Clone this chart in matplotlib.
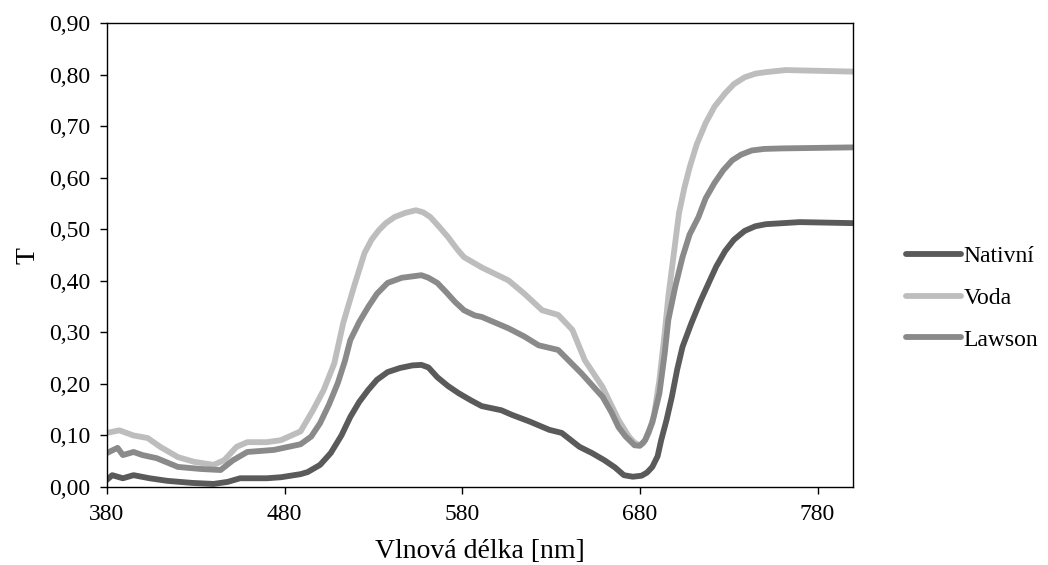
import matplotlib
matplotlib.use("Agg")
import matplotlib.pyplot as plt
from matplotlib.ticker import FuncFormatter

plt.rcParams['font.family'] = ['Liberation Serif', 'DejaVu Serif']

# wavelength [nm] and transmittance
wl_nat = [380, 383, 389, 395, 404, 414, 428, 440, 448, 455, 470, 478, 489, 493,
          500, 506, 512, 517, 522, 527, 532, 538, 545, 552, 557, 561, 566, 572,
          578, 585, 591, 602, 608, 618, 629, 636, 646, 653, 660, 666, 671, 676,
          681, 684, 687, 690, 692, 695, 698, 701, 704, 709, 714, 719, 723, 728,
          733, 739, 745, 751, 770, 800]
t_nat = [0.014, 0.023, 0.017, 0.023, 0.017, 0.012, 0.008, 0.006, 0.010, 0.017,
         0.017, 0.019, 0.025, 0.029, 0.043, 0.066, 0.100, 0.136, 0.165, 0.188,
         0.208, 0.223, 0.231, 0.236, 0.237, 0.232, 0.213, 0.196, 0.182, 0.168,
         0.157, 0.149, 0.140, 0.127, 0.111, 0.105, 0.078, 0.066, 0.052, 0.038,
         0.023, 0.020, 0.022, 0.028, 0.039, 0.060, 0.091, 0.130, 0.175, 0.228,
         0.272, 0.318, 0.360, 0.398, 0.428, 0.458, 0.480, 0.497, 0.506, 0.510,
         0.514, 0.512]

wl_voda = [380, 387, 395, 403, 410, 420, 429, 440, 446, 453, 459, 470, 478,
           489, 496, 502, 508, 513, 519, 525, 529, 533, 537, 542, 548, 554,
           558, 562, 567, 572, 577, 581, 591, 606, 615, 625, 634, 642, 649,
           654, 659, 668, 674, 677, 680, 682, 685, 688, 691, 694, 696, 699,
           702, 705, 708, 712, 717, 722, 728, 733, 739, 745, 751, 762, 800]
t_voda = [0.105, 0.110, 0.100, 0.095, 0.078, 0.058, 0.049, 0.043, 0.052, 0.078,
          0.087, 0.087, 0.091, 0.108, 0.149, 0.188, 0.240, 0.318, 0.388, 0.454,
          0.480, 0.498, 0.512, 0.524, 0.532, 0.537, 0.533, 0.524, 0.505, 0.485,
          0.462, 0.446, 0.426, 0.401, 0.375, 0.343, 0.334, 0.305, 0.246, 0.220,
          0.194, 0.130, 0.097, 0.086, 0.081, 0.085, 0.105, 0.140, 0.208, 0.300,
          0.369, 0.450, 0.531, 0.580, 0.620, 0.665, 0.706, 0.738, 0.764, 0.782,
          0.795, 0.802, 0.805, 0.809, 0.806]

wl_law = [380, 386, 389, 395, 400, 408, 420, 433, 444, 451, 459, 474, 489,
          495, 500, 505, 510, 514, 517, 522, 527, 532, 538, 546, 557, 561,
          566, 571, 576, 581, 587, 591, 606, 615, 623, 634, 647, 653, 659,
          664, 668, 672, 677, 680, 683, 687, 691, 694, 696, 700, 704, 708,
          713, 717, 722, 727, 732, 737, 743, 750, 760, 800]
t_law = [0.066, 0.076, 0.062, 0.068, 0.062, 0.056, 0.039, 0.035, 0.033, 0.052,
         0.068, 0.072, 0.083, 0.098, 0.124, 0.160, 0.202, 0.245, 0.285, 0.320,
         0.349, 0.375, 0.396, 0.406, 0.411, 0.406, 0.396, 0.378, 0.359, 0.343,
         0.333, 0.330, 0.308, 0.292, 0.275, 0.266, 0.221, 0.198, 0.175, 0.145,
         0.116, 0.098, 0.081, 0.080, 0.091, 0.125, 0.182, 0.260, 0.324, 0.390,
         0.446, 0.490, 0.524, 0.560, 0.590, 0.615, 0.634, 0.645, 0.653, 0.656,
         0.657, 0.659]

names = ["Nativní", "Voda", "Lawson"]
colors = ["#5a5a5a", "#bdbdbd", "#8a8a8a"]

fig = plt.figure(figsize=(10.48, 5.65), dpi=100)
ax = fig.add_axes([0.102, 0.138, 0.712, 0.821])

for wl, t, name, c in zip([wl_nat, wl_voda, wl_law], [t_nat, t_voda, t_law], names, colors):
    ax.plot(wl, t, color=c, lw=4.2, label=name, solid_capstyle='round',
            solid_joinstyle='round')

ax.set_xlim(380, 800)
ax.set_ylim(0, 0.9)
ax.set_xticks([380, 480, 580, 680, 780])
ax.set_yticks([i / 10 for i in range(10)])
ax.yaxis.set_major_formatter(FuncFormatter(lambda v, p: f"{v:.2f}".replace(".", ",")))
ax.tick_params(direction='out', length=5, width=1, labelsize=17, colors='black', pad=7)
for s in ax.spines.values():
    s.set_linewidth(1.0)
ax.set_xlabel("Vlnová délka [nm]", fontsize=20, labelpad=10)
ax.set_ylabel("T", fontsize=20, labelpad=6)

fig.legend(loc='center left', bbox_to_anchor=(0.844, 0.472), frameon=False,
           fontsize=17, handlelength=2.35, handletextpad=0.1, labelspacing=0.85)

fig.savefig("out.png", dpi=100)
